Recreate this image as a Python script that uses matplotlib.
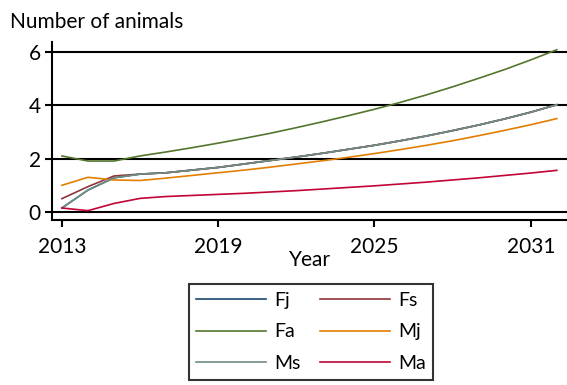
import matplotlib
matplotlib.use("Agg")
import matplotlib.pyplot as plt

years = list(range(2013, 2033))
fj = [0.15, 0.82, 1.28, 1.42, 1.47, 1.57, 1.67, 1.80, 1.93, 2.06, 2.20, 2.35, 2.50, 2.67, 2.85, 3.05, 3.26, 3.49, 3.74, 4.02]
fs = [0.50, 0.95, 1.35, 1.42, 1.47, 1.57, 1.67, 1.80, 1.93, 2.06, 2.20, 2.35, 2.50, 2.67, 2.85, 3.05, 3.26, 3.49, 3.74, 4.02]
fa = [2.10, 1.91, 1.91, 2.10, 2.25, 2.41, 2.58, 2.76, 2.95, 3.16, 3.38, 3.61, 3.85, 4.11, 4.39, 4.69, 5.01, 5.34, 5.70, 6.08]
mj = [1.00, 1.30, 1.20, 1.18, 1.27, 1.37, 1.47, 1.57, 1.68, 1.80, 1.92, 2.05, 2.19, 2.34, 2.50, 2.67, 2.86, 3.06, 3.27, 3.50]
ms = [0.15, 0.82, 1.28, 1.42, 1.47, 1.57, 1.67, 1.80, 1.93, 2.06, 2.20, 2.35, 2.50, 2.67, 2.85, 3.05, 3.26, 3.49, 3.74, 4.02]
ma = [0.15, 0.05, 0.32, 0.51, 0.58, 0.62, 0.66, 0.70, 0.75, 0.80, 0.86, 0.92, 0.98, 1.05, 1.12, 1.20, 1.28, 1.37, 1.46, 1.56]

series = [("Fj", fj, "#1a476f"), ("Fs", fs, "#90353b"), ("Fa", fa, "#55752f"),
          ("Mj", mj, "#e37e00"), ("Ms", ms, "#6e8e84"), ("Ma", ma, "#c10534")]
xticks = [2013, 2019, 2025, 2031]
yticks = [0, 2, 4, 6]

plt.rcParams['font.family'] = ['Lato', 'DejaVu Sans']

W, H = 567, 385
fig = plt.figure(figsize=(W/100, H/100), dpi=100)
ax = fig.add_axes([52/W, 1-220/H, 1-52/W, (220-42)/H])

handles = {}
for name, vals, col in series:
    handles[name], = ax.plot(years, vals, color=col, lw=1.2, label=name, zorder=3)

ax.set_xlim(2012.62, 2032.39)
ax.set_ylim(-0.30, 6.37)
ax.set_xticks(xticks)
ax.set_yticks(yticks)
for y in yticks:
    ax.axhline(y, color="black", lw=1.5, zorder=1)
for s in ["top", "right"]:
    ax.spines[s].set_visible(False)
for s in ["left", "bottom"]:
    ax.spines[s].set_linewidth(1.5)
ax.tick_params(axis="both", labelsize=15, width=1.5, length=5)
ax.tick_params(axis="x", pad=7)
ax.tick_params(axis="y", pad=3)
ax.set_xlabel("Year", fontsize=15, labelpad=-5)
fig.text(10/W, 1-22/H, "Number of animals", fontsize=15, va="center", ha="left")

order = ["Fj", "Fa", "Ms", "Fs", "Mj", "Ma"]
leg = ax.legend([handles[n] for n in order], order, ncol=2, loc="upper center",
                bbox_to_anchor=(311/W, 1-284/H), borderaxespad=0,
                bbox_transform=fig.transFigure, fontsize=14, frameon=True,
                fancybox=False, edgecolor="black", handlelength=3.6,
                columnspacing=1.0, labelspacing=0.75, borderpad=0.4,
                handletextpad=0.4)
leg.get_frame().set_linewidth(1.5)

fig.savefig("out.png", dpi=100)
